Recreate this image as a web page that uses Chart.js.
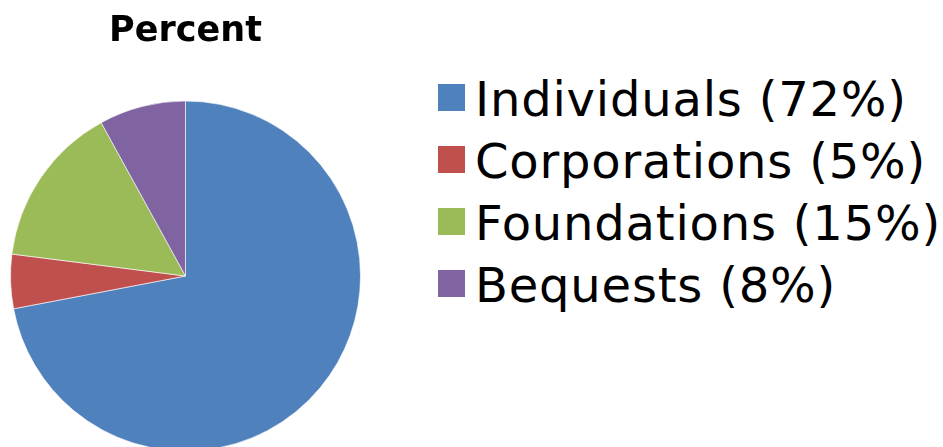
<!DOCTYPE html>
<html>
<head>
<meta charset="utf-8">
<script src="https://cdn.jsdelivr.net/npm/chart.js@4"></script>
<style>
  html, body { margin: 0; padding: 0; background: #fff; width: 943px; height: 447px; overflow: hidden; }
  #wrap { position: relative; width: 943px; height: 447px; overflow: hidden; }
  #pie { position: absolute; left: 0; top: 0; display: block; }
  #legend { position: absolute; left: 438px; top: 68px; margin: 0; padding: 0; list-style: none;
            font-family: "DejaVu Sans", Verdana, sans-serif; font-size: 48px; letter-spacing: 0.8px; color: #000; }
  #legend li { position: relative; height: 62px; line-height: 62px; white-space: nowrap; padding-left: 37px; }
  #legend .sw { position: absolute; left: 0; top: 16px; width: 27px; height: 27px; }
</style>
</head>
<body>
<div id="wrap">
  <canvas id="pie" width="380" height="460"></canvas>
  <ul id="legend"></ul>
</div>
<script>
const categories = ["Individuals", "Corporations", "Foundations", "Bequests"];
const percentValues = [72, 5, 15, 8];
const sliceColors = ["#4F81BD", "#C0504D", "#9BBB59", "#8064A2"];
const chartTitle = "Percent";

const chart = new Chart(document.getElementById("pie"), {
  type: "pie",
  data: {
    labels: categories,
    datasets: [{
      data: percentValues,
      backgroundColor: sliceColors,
      borderColor: "rgba(255,255,255,0.6)",
      borderWidth: 1,
      hoverOffset: 0
    }]
  },
  options: {
    responsive: false,
    animation: false,
    layout: { padding: { left: 10, right: 19, top: 0, bottom: 8.5 } },
    plugins: {
      legend: { display: false },
      tooltip: { enabled: false },
      title: {
        display: true,
        text: chartTitle,
        color: "#000",
        fullSize: true,
        font: { family: "'DejaVu Sans', Verdana, sans-serif", size: 35, weight: "bold", lineHeight: 1.2 },
        padding: { top: 10.5, bottom: 48 }
      }
    }
  }
});

// Legend built from the chart's own data
const ul = document.getElementById("legend");
chart.data.labels.forEach((lab, i) => {
  const li = document.createElement("li");
  const sw = document.createElement("span");
  sw.className = "sw";
  sw.style.background = chart.data.datasets[0].backgroundColor[i];
  li.appendChild(sw);
  li.appendChild(document.createTextNode(lab + " (" + chart.data.datasets[0].data[i] + "%)"));
  ul.appendChild(li);
});
</script>
</body>
</html>
